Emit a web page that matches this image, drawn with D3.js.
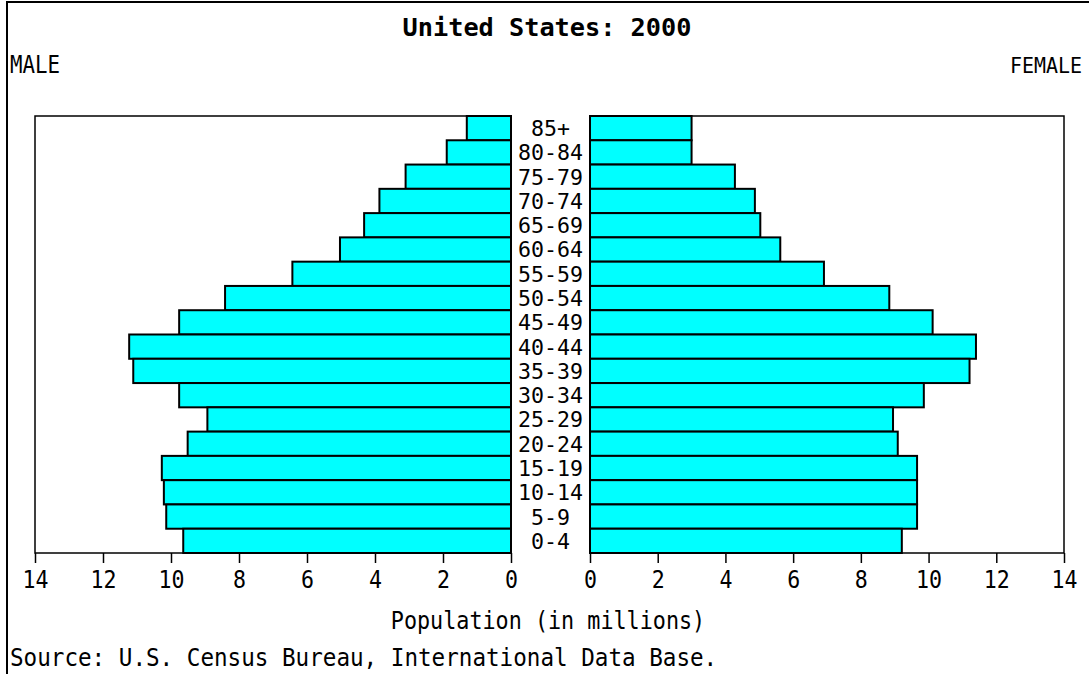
<!DOCTYPE html>
<html>
<head>
<meta charset="utf-8">
<script src="https://cdn.jsdelivr.net/npm/d3@7"></script>
<style>
  body { margin: 0; background: #fff; }
  text { font-family: "DejaVu Sans Mono", monospace; fill: #000; }
</style>
</head>
<body>
<div id="vis"></div>
<script>
// age groups, top to bottom
const ages = ["85+", "80-84", "75-79", "70-74", "65-69", "60-64", "55-59", "50-54", "45-49",
  "40-44", "35-39", "30-34", "25-29", "20-24", "15-19", "10-14", "5-9", "0-4"];
// population in millions
const male = [1.30, 1.89, 3.10, 3.87, 4.32, 5.03, 6.43, 8.41, 9.76,
  11.23, 11.11, 9.76, 8.93, 9.51, 10.27, 10.21, 10.14, 9.64];
const female = [3.00, 3.00, 4.28, 4.87, 5.03, 5.62, 6.91, 8.84, 10.12,
  11.40, 11.21, 9.86, 8.95, 9.09, 9.66, 9.66, 9.66, 9.21];
const ticks = [0, 2, 4, 6, 8, 10, 12, 14];

const width = 1089, height = 674;
const plotTop = 116, plotBottom = 553;

let svg = d3.select('#vis')
  .append('svg')
  .attr('width', width)
  .attr('height', height);

// narrow monospace look: squeeze each text to a fixed char width
function fit(sel, cw) {
  sel.each(function() {
    const t = d3.select(this);
    t.attr('textLength', t.text().length * cw).attr('lengthAdjust', 'spacingAndGlyphs');
  });
}

// outer frame (only left and top edge show)
svg.append('rect')
  .attr('x', 7).attr('y', 2).attr('width', 1300).attr('height', 900)
  .attr('fill', 'none').attr('stroke', '#000').attr('stroke-width', 2);

const xL = d3.scaleLinear().domain([0, 14]).range([511, 35]);
const xR = d3.scaleLinear().domain([0, 14]).range([590, 1064]);
const y = d3.scaleBand().domain(ages).range([plotTop, plotBottom]);

// panel boxes
[xL, xR].forEach(x => {
  const [a, b] = x.range();
  svg.append('rect')
    .attr('x', Math.min(a, b)).attr('y', plotTop)
    .attr('width', Math.abs(b - a)).attr('height', plotBottom - plotTop)
    .attr('fill', 'none').attr('stroke', '#000').attr('stroke-width', 1.5);
});

// bars
svg.append('g').selectAll('rect')
  .data(ages.map((a, i) => ({a, v: male[i]})))
  .join('rect')
  .attr('x', d => xL(d.v))
  .attr('y', d => y(d.a))
  .attr('width', d => xL(0) - xL(d.v))
  .attr('height', y.bandwidth())
  .attr('fill', '#00ffff').attr('stroke', '#000').attr('stroke-width', 2);

svg.append('g').selectAll('rect')
  .data(ages.map((a, i) => ({a, v: female[i]})))
  .join('rect')
  .attr('x', xR(0))
  .attr('y', d => y(d.a))
  .attr('width', d => xR(d.v) - xR(0))
  .attr('height', y.bandwidth())
  .attr('fill', '#00ffff').attr('stroke', '#000').attr('stroke-width', 2);

// age labels
svg.append('g').selectAll('text')
  .data(ages)
  .join('text')
  .attr('x', 550.5)
  .attr('y', d => y(d) + y.bandwidth() / 2)
  .attr('dy', '0.36em')
  .attr('text-anchor', 'middle')
  .attr('font-size', 22)
  .text(d => d)
  .call(fit, 13);

// axes
[xL, xR].forEach(x => {
  const g = svg.append('g')
    .attr('transform', `translate(0,${plotBottom})`)
    .call(d3.axisBottom(x).tickValues(ticks).tickSize(10).tickPadding(7).tickFormat(d3.format('d')));
  g.select('.domain').remove();
  g.selectAll('.tick line').attr('stroke', '#000').attr('stroke-width', 1.5);
  g.selectAll('.tick text')
    .attr('font-size', 25)
    .attr('font-family', '"DejaVu Sans Mono", monospace')
    .call(fit, 13);
});

// titles
svg.append('text')
  .attr('x', 547).attr('y', 36)
  .attr('text-anchor', 'middle')
  .attr('font-size', 25).attr('font-weight', 'bold')
  .text('United States: 2000')
  .call(fit, 15.2);

svg.append('text')
  .attr('x', 10).attr('y', 73)
  .attr('font-size', 24)
  .text('MALE')
  .call(fit, 12.5);

svg.append('text')
  .attr('x', 1082).attr('y', 73)
  .attr('text-anchor', 'end')
  .attr('font-size', 22)
  .text('FEMALE')
  .call(fit, 12);

svg.append('text')
  .attr('x', 548).attr('y', 629)
  .attr('text-anchor', 'middle')
  .attr('font-size', 24)
  .text('Population (in millions)')
  .call(fit, 13.1);

svg.append('text')
  .attr('x', 10).attr('y', 666)
  .attr('font-size', 24)
  .text('Source: U.S. Census Bureau, International Data Base.')
  .call(fit, 13.6);
</script>
</body>
</html>
